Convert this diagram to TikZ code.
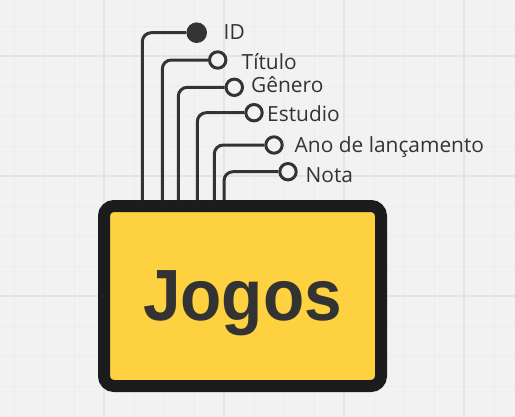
\documentclass[tikz,border=0pt]{standalone}
\usepackage{fontspec}
\usepackage{graphicx}
\setmainfont{Open Sans}
\newfontfamily\titlefont{Liberation Sans}
\usetikzlibrary{calc}
\definecolor{bg}{HTML}{F2F2F2}
\definecolor{gridminor}{HTML}{ECECEC}
\definecolor{gridmajor}{HTML}{E4E4E4}
\definecolor{ink}{HTML}{333333}
\definecolor{border}{HTML}{1C1C1C}
\definecolor{boxfill}{HTML}{FDD13F}
\tikzset{
  conn/.style={draw=ink, line width=3pt, rounded corners=9pt},
  keydot/.style={circle, fill=ink, minimum size=20.6pt, inner sep=0pt},
  attdot/.style={circle, draw=ink, fill=bg, line width=3pt, minimum size=16.4pt, inner sep=0pt},
  attlabel/.style={anchor=base west, inner sep=0pt, text=ink, font=\fontsize{20.9pt}{24pt}\selectfont},
  entity/.style={rectangle, draw=border, fill=boxfill, line width=12pt, rounded corners=10pt,
     minimum width=277pt, minimum height=180pt, inner sep=0pt}
}
\begin{document}
\begin{tikzpicture}[x=1pt,y=-1pt]
\useasboundingbox (0,0) rectangle (515,416);
\fill[bg] (0,0) rectangle (515,416);
% grid
\foreach \gx in {14,44,...,514} \draw[gridminor, line width=1pt] (\gx,0) -- (\gx,416);
\foreach \gy in {26,56,...,416} \draw[gridminor, line width=1pt] (0,\gy) -- (515,\gy);
\foreach \gx in {104,224,344,464} \draw[gridmajor, line width=1.2pt] (\gx,0) -- (\gx,416);
\foreach \gy in {56,176,296} \draw[gridmajor, line width=1.2pt] (0,\gy) -- (515,\gy);

% entity
\node[entity] (box) at (242.5,296) {};
\node[anchor=base, inner sep=0pt, text=ink, font=\titlefont\bfseries\fontsize{72.6pt}{80pt}\selectfont] (title) at (242.5,320) {\scalebox{0.93}[1]{Jogos}};

% attribute markers
\node[keydot] (a1) at (196.7,32.7) {};
\node[attdot] (a2) at (217.7,60) {};
\node[attdot] (a3) at (234.3,87.3) {};
\node[attdot] (a4) at (254,112.7) {};
\node[attdot] (a5) at (274,145) {};
\node[attdot] (a6) at (288,171.7) {};

% connectors (box.north west includes the half border width as outer sep)
\draw[conn] ($(box.north west)+(44.3,0)$) |- (a1.west);
\draw[conn] ($(box.north west)+(64.3,0)$) |- (a2.west);
\draw[conn] ($(box.north west)+(80.3,0)$) |- (a3.west);
\draw[conn] ($(box.north west)+(99.3,0)$) |- (a4.west);
\draw[conn] ($(box.north west)+(116.3,0)$) |- (a5.west);
\draw[conn] ($(box.north west)+(126,0)$) |- (a6.west);

% labels
\node[attlabel] (l1) at (223.5,39.3) {ID};
\node[attlabel] (l2) at (241.5,69.3) {Título};
\node[attlabel] (l3) at (251,92) {Gênero};
\node[attlabel] (l4) at (267,121.7) {Estudio};
\node[attlabel] (l5) at (294.5,152.3) {Ano de lançamento};
\node[attlabel] (l6) at (305.5,182.3) {Nota};
\end{tikzpicture}
\end{document}
